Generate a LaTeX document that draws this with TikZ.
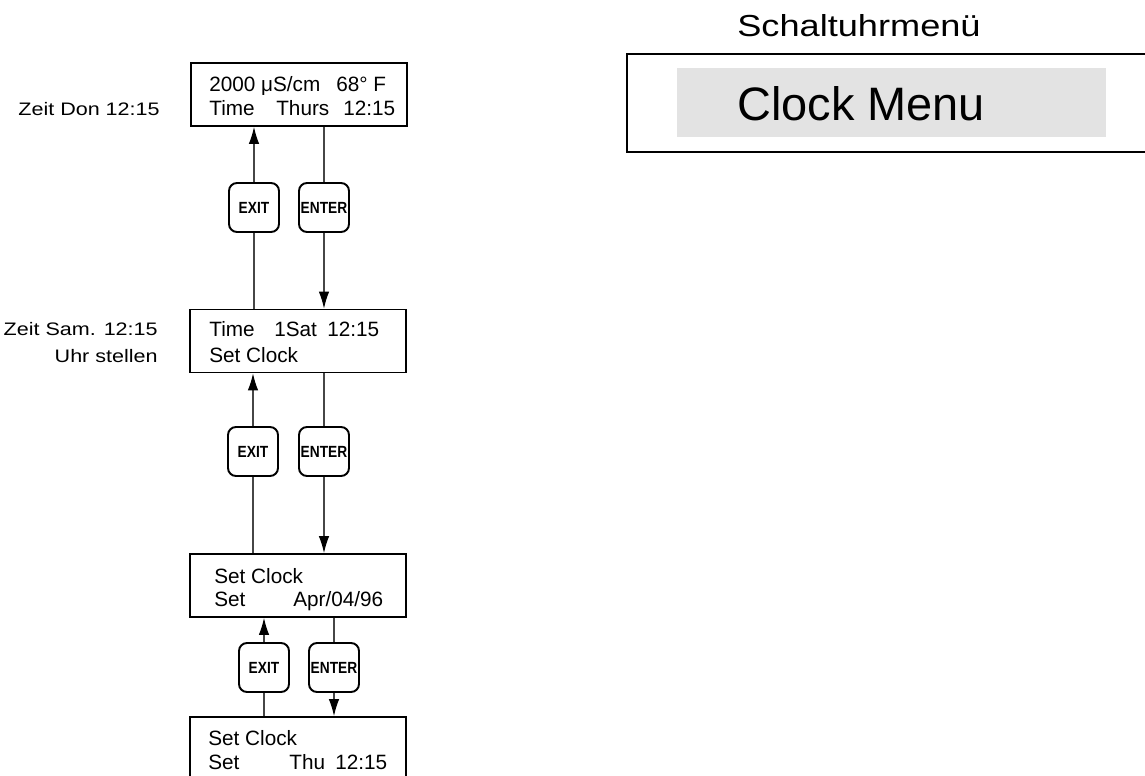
\documentclass[tikz,border=0pt]{standalone}
\usepackage{fontspec}
\setmainfont{Liberation Sans}
\newfontfamily\labelfont[FakeStretch=1.19]{Liberation Sans}
\newfontfamily\keyfont[FakeStretch=0.85]{Liberation Sans Bold}
\usetikzlibrary{arrows.meta}

\definecolor{panelgray}{RGB}{227,227,227}
\definecolor{wiregray}{RGB}{70,70,70}

\tikzset{
  display/.style={draw, line width=1.1pt, minimum width=4.32cm, minimum height=1.26cm, inner sep=0pt},
  button/.style={draw, line width=1.1pt, rounded corners=0.16cm, minimum width=1cm, minimum height=0.98cm, inner sep=0pt, font={\keyfont\fontsize{9.2}{10}\selectfont}},
  lcd/.style={anchor=base west, inner sep=0pt, font={\fontsize{11.8}{14}\selectfont}},
  sidelabel/.style={anchor=base east, inner sep=0pt, font={\labelfont\fontsize{10.3}{12}\selectfont}},
  wire/.style={draw=wiregray, line width=0.6pt},
  arrowwire/.style={wire, -{Latex[length=0.34cm,width=0.21cm,color=black]}}
}

\begin{document}
\begin{tikzpicture}[x=0.02cm, y=-0.02cm]
  \useasboundingbox (0,0) rectangle (1145,776);

  % menu title on the right
  \node[anchor=base west, inner sep=0pt, font={\labelfont\fontsize{17.3}{20}\selectfont}] (heading) at (737,37) {Schaltuhrmenü};
  \node[draw, line width=1.2pt, minimum width=10.76cm, minimum height=1.96cm, inner sep=0pt] (frame) at (896,103) {};
  \node[fill=panelgray, minimum width=8.58cm, minimum height=1.38cm, inner sep=0pt] (panel) at (891.5,102.5) {};
  \node[anchor=base west, inner sep=0pt, font={\fontsize{26.7}{30}\selectfont}] (title) at (737,120.7) {Clock Menu};

  % the four displays
  \node[display] (d1) at (299,94.5) {};
  \node[display] (d2) at (298,341) {};
  \node[display] (d3) at (298,585.5) {};
  \node[display] (d4) at (298,748.5) {};

  \node[lcd] (d1a) at (209,92) {\makebox[2.54cm][l]{2000 μS/cm}68° F};
  \node[lcd] (d1b) at (209,116) {\makebox[1.34cm][l]{Time}\makebox[1.34cm][l]{Thurs}12:15};
  \node[lcd] (d2a) at (209,337) {\makebox[1.30cm][l]{Time}\makebox[1.06cm][l]{1Sat}12:15};
  \node[lcd] (d2b) at (209,363) {Set Clock};
  \node[lcd] (d3a) at (214,583) {Set Clock};
  \node[lcd] (d3b) at (214,606) {\makebox[1.58cm][l]{Set}Apr/04/96};
  \node[lcd] (d4a) at (208,745) {Set Clock};
  \node[lcd] (d4b) at (208,769) {\makebox[1.62cm][l]{Set}\makebox[0.92cm][l]{Thu}12:15};

  % German captions
  \node[sidelabel] (c1) at (160,116) {Zeit Don 12:15};
  \node[sidelabel] (c2) at (158,336) {Zeit Sam. 12:15};
  \node[sidelabel] (c3) at (158,363) {Uhr stellen};

  % keys
  \node[button] (exit1) at (254,207.5) {EXIT};
  \node[button] (enter1) at (324,207.5) {ENTER};
  \node[button] (exit2) at (253,451.5) {EXIT};
  \node[button] (enter2) at (324,451.5) {ENTER};
  \node[button] (exit3) at (264,667.5) {EXIT};
  \node[button] (enter3) at (334,667.5) {ENTER};

  % first step
  \draw[arrowwire] (exit1.north) -- (exit1.north |- d1.south);
  \draw[wire] (d2.north -| exit1) -- (exit1.south);
  \draw[wire] (d1.south -| enter1) -- (enter1.north);
  \draw[arrowwire] (enter1.south) -- (enter1.south |- d2.north);

  % second step
  \draw[arrowwire] (exit2.north) -- (exit2.north |- d2.south);
  \draw[wire] (d3.north -| exit2) -- (exit2.south);
  \draw[wire] (d2.south -| enter2) -- (enter2.north);
  \draw[arrowwire] (enter2.south) -- (enter2.south |- d3.north);

  % third step
  \draw[arrowwire] (exit3.north) -- (exit3.north |- d3.south);
  \draw[wire] (d4.north -| exit3) -- (exit3.south);
  \draw[wire] (d3.south -| enter3) -- (enter3.north);
  \draw[arrowwire] (enter3.south) -- (enter3.south |- d4.north);
\end{tikzpicture}
\end{document}
